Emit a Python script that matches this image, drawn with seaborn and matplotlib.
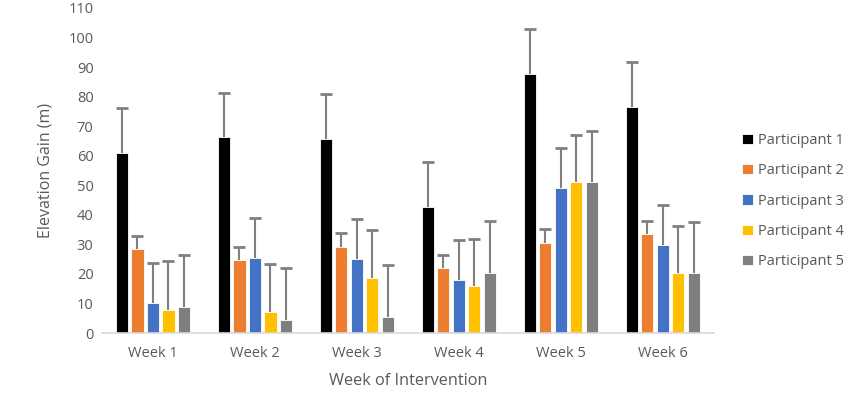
import matplotlib
matplotlib.use("Agg")
import matplotlib.pyplot as plt
import seaborn as sns
import pandas as pd
import numpy as np

weeks = ["Week 1", "Week 2", "Week 3", "Week 4", "Week 5", "Week 6"]
participants = ["Participant 1", "Participant 2", "Participant 3", "Participant 4", "Participant 5"]
p1 = [61.0, 66.2, 65.5, 42.5, 87.5, 76.4]
p2 = [28.4, 24.7, 29.2, 22.1, 30.5, 33.5]
p3 = [10.3, 25.4, 25.1, 17.8, 49.2, 29.9]
p4 = [7.8, 7.0, 18.5, 15.8, 51.1, 20.2]
p5 = [8.7, 4.4, 5.5, 20.2, 51.0, 20.2]
err1 = [15.2, 14.9, 15.3, 15.3, 15.5, 15.2]
err2 = [4.4, 4.4, 4.5, 4.3, 4.6, 4.5]
err3 = [13.5, 13.4, 13.5, 13.7, 13.5, 13.5]
err4 = [16.6, 16.2, 16.3, 16.1, 16.0, 16.1]
err5 = [17.7, 17.6, 17.6, 17.8, 17.4, 17.5]
colors = ["#000000", "#ED7D31", "#4472C4", "#FFC000", "#7F7F7F"]

values = [p1, p2, p3, p4, p5]
errors = [err1, err2, err3, err4, err5]
rows = []
for pi, name in enumerate(participants):
    for wi, w in enumerate(weeks):
        rows.append({"Week": w, "Participant": name, "Gain": values[pi][wi], "Err": errors[pi][wi]})
df = pd.DataFrame(rows)

sns.set_style("white")
plt.rcParams["font.family"] = ["Open Sans", "DejaVu Sans"]
text_color = "#595959"

fig = plt.figure(figsize=(8.63, 3.96), dpi=100)
ax = fig.add_axes([0.118, 0.159, 0.709, 0.821])

sns.barplot(data=df, x="Week", y="Gain", hue="Participant", palette=colors,
            width=0.76, gap=0.2, errorbar=None, ax=ax, legend=True, saturation=1,
            edgecolor="white", linewidth=0.6)

# error bars (upper only) at each bar centre
bar_containers = list(ax.containers)
for pi, container in enumerate(bar_containers):
    for wi, patch in enumerate(container.patches):
        xc = patch.get_x() + patch.get_width() / 2
        h = patch.get_height()
        eb = ax.errorbar(xc, h, yerr=[[0], [errors[pi][wi]]], fmt="none",
                         ecolor="#7F7F7F", elinewidth=1.5, capsize=4, capthick=2, zorder=3)
        for cl in eb[1]:
            if abs(cl.get_ydata()[0] - h) < 1e-9:
                cl.set_visible(False)

ax.set_ylim(0, 110)
ax.set_xlim(-0.5, 5.5)
ax.set_yticks(range(0, 111, 10))
ax.tick_params(axis="both", length=0, labelsize=10.5, labelcolor=text_color, pad=6)
ax.tick_params(axis="x", pad=9)
for s in ["top", "right", "left"]:
    ax.spines[s].set_visible(False)
ax.spines["bottom"].set_color("#D9D9D9")
ax.spines["bottom"].set_linewidth(1.2)
ax.set_xlabel("Week of Intervention", fontsize=11.7, color=text_color, labelpad=9)
ax.set_ylabel("Elevation Gain (m)", fontsize=11.5, color=text_color, labelpad=11)

leg = ax.legend(loc="center left", bbox_to_anchor=(0.845, 0.492), bbox_transform=fig.transFigure,
                frameon=False, fontsize=10.5, handlelength=0.7, handleheight=0.7,
                handletextpad=0.4, labelspacing=1.05)
for t in leg.get_texts():
    t.set_color(text_color)

fig.savefig("out.png", dpi=100)
